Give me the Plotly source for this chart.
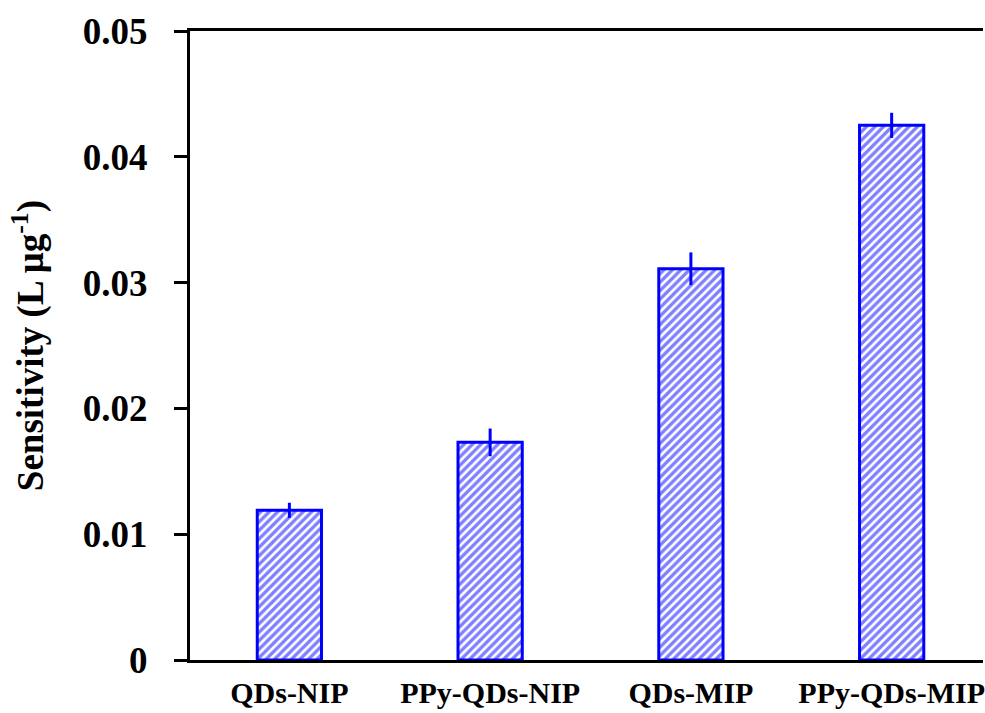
import plotly.graph_objects as go

categories = ["QDs-NIP", "PPy-QDs-NIP", "QDs-MIP", "PPy-QDs-MIP"]
sensitivity = [0.0119, 0.0173, 0.0311, 0.0425]
errors = [0.0006, 0.0011, 0.0013, 0.0010]
y_ticks = [0, 0.01, 0.02, 0.03, 0.04, 0.05]
y_tick_labels = ["0", "0.01", "0.02", "0.03", "0.04", "0.05"]

BLUE = "#0000FF"
FONT = "Liberation Serif"

fig = go.Figure()
fig.add_trace(go.Bar(
    x=list(range(len(categories))),
    y=sensitivity,
    width=0.32,
    marker=dict(
        color="white",
        line=dict(color=BLUE, width=3),
        pattern=dict(shape="/", fgcolor=BLUE, bgcolor="white", size=6, solidity=0.55),
    ),
    error_y=dict(type="data", array=errors, visible=True, color=BLUE, thickness=3, width=0),
))

fig.update_layout(
    width=985, height=713,
    margin=dict(l=190, r=0, t=31, b=53),
    paper_bgcolor="white", plot_bgcolor="white",
    showlegend=False,
    font=dict(family=FONT, color="black", weight="bold"),
    xaxis=dict(
        range=[-0.495, 3.455],
        tickvals=list(range(len(categories))),
        ticktext=categories,
        tickfont=dict(family=FONT, size=30, weight="bold"),
        ticklabeloverflow="allow",
        showline=True, linecolor="black", linewidth=3, mirror=True,
        showgrid=False, zeroline=False, ticks="",
        ticklabelstandoff=4,
    ),
    yaxis=dict(
        range=[0, 0.05],
        tickvals=y_ticks,
        ticktext=y_tick_labels,
        tickfont=dict(family=FONT, size=37, weight="bold"),
        showline=True, linecolor="black", linewidth=3, mirror=False,
        showgrid=False, zeroline=False,
        ticks="outside", ticklen=13, tickwidth=3, tickcolor="black",
        ticklabelstandoff=19,
        title=dict(text="Sensitivity (L μg<sup>-1</sup>)", font=dict(family=FONT, size=37, weight="bold"), standoff=28),
    ),
)

fig.write_html("out.html")
